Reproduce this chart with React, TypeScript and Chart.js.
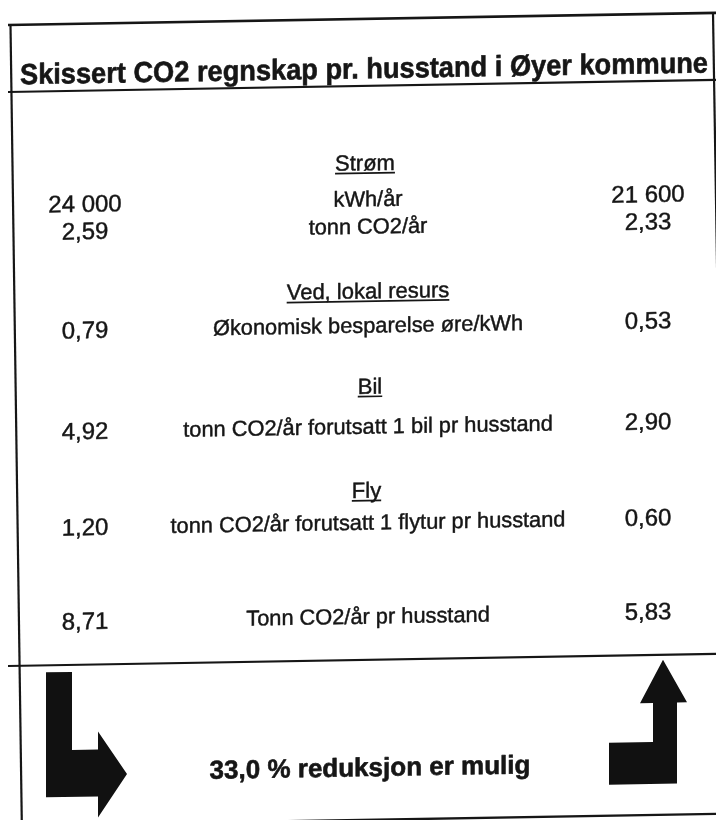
import React, { useEffect, useRef } from 'react';
import { Chart, registerables } from 'chart.js';

Chart.register(...registerables);

// ---------- data ----------
const titleText = 'Skissert CO2 regnskap pr. husstand i Øyer kommune';
const sectionTitles = ['Strøm', 'Ved, lokal resurs', 'Bil', 'Fly'];
const rowLabels = [
  'kWh/år',
  'tonn CO2/år',
  'Økonomisk besparelse øre/kWh',
  'tonn CO2/år forutsatt 1 bil pr husstand',
  'tonn CO2/år forutsatt 1 flytur pr husstand',
  'Tonn CO2/år pr husstand',
];
const valuesToday = [24000, 2.59, 0.79, 4.92, 1.2, 8.71];
const valuesPossible = [21600, 2.33, 0.53, 2.9, 0.6, 5.83];
const valueDecimals = [0, 2, 2, 2, 2, 2];
const reductionPercent = 33.0;
const reductionText = 'reduksjon er mulig';

// ---------- layout (scale units) ----------
const W = 716;
const H = 820;
const sectionY = [162.6, 290.7, 386, 490];
const sectionX = [365, 368, 370, 366.5];
const rowY = [198.6, 226, 325, 426, 522, 616];
const COL_LEFT = 85;
const COL_MID = 368;
const COL_RIGHT = 648;
const SKEW = 0.0171;
const FONT = '"Liberation Sans", Arial, Helvetica, sans-serif';
const INK = '#161616';

function fmt(v: number, d: number): string {
  const [i, f] = v.toFixed(d).split('.');
  const grouped = i.replace(/\B(?=(\d{3})+(?!\d))/g, ' ');
  return f ? `${grouped},${f}` : grouped;
}

const tablePlugin = {
  id: 'co2table',
  beforeDraw(chart: any) {
    const { ctx, width, height } = chart;
    ctx.save();
    ctx.fillStyle = '#ffffff';
    ctx.fillRect(0, 0, width, height);
    ctx.restore();
  },
  afterDatasetsDraw(chart: any) {
    const { ctx } = chart;
    const xs = chart.scales.x;
    const ys = chart.scales.y;
    const px = (v: number) => xs.getPixelForValue(v);
    const py = (v: number) => ys.getPixelForValue(v);
    ctx.save();
    ctx.transform(1, -SKEW, 0, 1, 0, SKEW * px(358));

    const text = (
      s: string,
      x: number,
      yc: number,
      size: number,
      opts: { bold?: boolean; underline?: boolean; fitWidth?: number } = {}
    ) => {
      ctx.save();
      ctx.font = `${opts.bold ? 'bold ' : ''}${size}px ${FONT}`;
      ctx.fillStyle = INK;
      ctx.strokeStyle = INK;
      ctx.textAlign = 'center';
      ctx.textBaseline = 'alphabetic';
      const base = yc + (size * 0.716) / 2;
      const w = ctx.measureText(s).width;
      let sx = 1;
      if (opts.fitWidth) sx = opts.fitWidth / w;
      ctx.translate(x, base);
      ctx.scale(sx, 1);
      ctx.lineWidth = opts.bold ? 0.6 : 0.45;
      ctx.lineJoin = 'round';
      ctx.fillText(s, 0, 0);
      ctx.strokeText(s, 0, 0);
      if (opts.underline) {
        ctx.beginPath();
        ctx.lineWidth = 1.7;
        ctx.moveTo(-w / 2, 2.8);
        ctx.lineTo(w / 2, 2.8);
        ctx.stroke();
      }
      ctx.restore();
    };

    // frame lines
    ctx.strokeStyle = INK;
    ctx.lineCap = 'butt';
    const line = (x1: number, y1: number, x2: number, y2: number, lw: number) => {
      ctx.beginPath();
      ctx.lineWidth = lw;
      ctx.moveTo(px(x1), py(y1));
      ctx.lineTo(px(x2), py(y2));
      ctx.stroke();
    };
    line(8, 19, 730, 19, 2.6);
    line(8, 86, 730, 86, 2.2);
    line(8, 660, 730, 660, 2.2);
    line(8, 820, 730, 820, 2.4);
    line(10.5, 19, 22, 830, 2.2);
    line(713, 19, 726, 830, 2.2);

    // title, condensed to the width of the band
    text(titleText, px(364), py(68), 29, { bold: true, fitWidth: 688 });

    // datasets -> text
    const m0 = chart.getDatasetMeta(0);
    const m1 = chart.getDatasetMeta(1);
    const m2 = chart.getDatasetMeta(2);
    const m3 = chart.getDatasetMeta(3);
    m3.data.forEach((el: any, i: number) => text(sectionTitles[i], el.x, el.y, 22, { underline: true }));
    m2.data.forEach((el: any, i: number) => text(rowLabels[i], el.x, el.y, 21.8));
    m0.data.forEach((el: any, i: number) => text(fmt(valuesToday[i], valueDecimals[i]), el.x, el.y, 24));
    m1.data.forEach((el: any, i: number) => text(fmt(valuesPossible[i], valueDecimals[i]), el.x, el.y, 24));

    // reduction text
    text(
      `${reductionPercent.toFixed(1).replace('.', ',')} % ${reductionText}`,
      px(370),
      py(767),
      26,
      { bold: true }
    );

    // arrows
    ctx.fillStyle = '#111111';
    const poly = (pts: number[][]) => {
      ctx.beginPath();
      pts.forEach(([x, y], i) => (i ? ctx.lineTo(px(x), py(y)) : ctx.moveTo(px(x), py(y))));
      ctx.closePath();
      ctx.fill();
    };
    poly([[46, 667], [72, 667], [72, 745], [98, 745], [98, 727], [127, 770], [98, 813], [98, 792], [46, 792]]);
    poly([[663, 665], [687, 708], [677, 708], [677, 789], [609, 789], [609, 747], [653, 747], [653, 708], [640, 708]]);

    ctx.restore();
  },
};

export default function App() {
  const ref = useRef<HTMLCanvasElement | null>(null);
  useEffect(() => {
    if (!ref.current) return;
    const chart = new Chart(ref.current, {
      type: 'scatter',
      data: {
        datasets: [
          { label: 'I dag', data: rowY.map((y) => ({ x: COL_LEFT, y })), pointRadius: 0 },
          { label: 'Mulig', data: rowY.map((y) => ({ x: COL_RIGHT, y })), pointRadius: 0 },
          { label: 'Tekst', data: rowY.map((y) => ({ x: COL_MID, y })), pointRadius: 0 },
          { label: 'Seksjon', data: sectionY.map((y, i) => ({ x: sectionX[i], y })), pointRadius: 0 },
        ],
      },
      options: {
        responsive: false,
        animation: false,
        events: [],
        layout: { padding: 0 },
        plugins: { legend: { display: false }, tooltip: { enabled: false } },
        scales: {
          x: { type: 'linear', min: 0, max: W, display: false },
          y: { type: 'linear', min: 0, max: H, reverse: true, display: false },
        },
      },
      plugins: [tablePlugin],
    });
    return () => chart.destroy();
  }, []);
  return (
    <div style={{ position: 'absolute', left: 0, top: 0, width: W, height: H, background: '#fff' }}>
      <canvas ref={ref} width={W} height={H} style={{ display: 'block' }} />
    </div>
  );
}
